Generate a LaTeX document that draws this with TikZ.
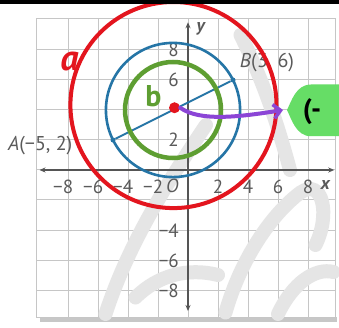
\documentclass[tikz,border=0pt]{standalone}
\usepackage{fontspec}
\setmainfont{PT Sans}
\usetikzlibrary{arrows.meta}
\definecolor{gridgray}{HTML}{C6C6C6}
\definecolor{axisgray}{HTML}{555555}
\definecolor{labgray}{HTML}{5A5A5A}
\definecolor{myblue}{HTML}{2575A6}
\definecolor{myred}{HTML}{E3151E}
\definecolor{mygreen}{HTML}{5E9E32}
\definecolor{mypurple}{HTML}{8B45D6}
\definecolor{blobgreen}{HTML}{66DD66}
\tikzset{
  ticklab/.style={font=\fontsize{19}{19}\selectfont, text=labgray, inner sep=0pt},
  ptlab/.style={font=\fontsize{20}{20}\selectfont, text=labgray, inner sep=0pt},
  axisline/.style={draw=axisgray, line width=1.6pt},
  bluedot/.style={circle, fill=myblue, inner sep=0pt, minimum size=5pt},
  wm/.style={draw=black!10, line width=14pt, line cap=round}
}
\begin{document}
\begin{tikzpicture}[x=1pt,y=-1pt]
\useasboundingbox (0,0) rectangle (339,328);
\fill[white] (0,0) rectangle (339,328);
% shadow under grid
\fill[black!22] (40,317) rectangle (337,322);
\begin{scope}[shift={(188,170)},x=15pt,y=15pt]
  % grid
  \fill[white] (-10.07,-9.8) rectangle (9.8,10.13);
  \draw[gridgray, line width=1pt] (-10.07,-9.8) rectangle (9.8,10.13);
  \foreach \k in {-8,-6,...,8} {
    \draw[gridgray, line width=1pt] (\k,-9.8) -- (\k,10.13);
    \draw[gridgray, line width=1pt] (-10.07,\k) -- (9.8,\k);
  }
  % watermark strokes
  \draw[wm] (-5.5,-9.6) .. controls (-4,-5) and (-1.5,-1) .. (1.2,3);
  \draw[wm] (3.5,9) .. controls (5,6) and (6,3) .. (6.8,0);
  \draw[wm] (2.5,-9.5) .. controls (3.5,-6) and (5.5,-3) .. (7.5,-1.5) .. controls (9,-0.5) and (9.5,-3) .. (8.5,-5);
  \draw[wm] (6,-9.6) .. controls (7,-7.5) and (8.5,-6.5) .. (9.7,-6.8);
  \draw[wm] (-3.5,-8.5) .. controls (-2,-7) and (0,-6.5) .. (2,-7);
  % axes
  \coordinate (xl) at (-9.9,0);
  \coordinate (xr) at (9.75,0);
  \coordinate (yb) at (0,-9.4);
  \coordinate (yt) at (0,9.85);
  \draw[axisline, {Stealth[length=6pt,width=5pt]}-{Stealth[length=6pt,width=5pt]}] (xl) -- (xr);
  \draw[axisline, {Stealth[length=6pt,width=5pt]}-{Stealth[length=6pt,width=5pt]}] (yb) -- (yt);
  \node[ticklab, font=\fontsize{18}{18}\selectfont\itshape\bfseries] (ylab) at (0.85,9.4) {y};
  \node[ticklab, font=\fontsize{18}{18}\selectfont\itshape\bfseries] (xlab) at (9.15,-1.0) {x};
  % tick labels x
  \foreach \v/\n in {-8/xm8,-6/xm6,-4/xm4,-2/xm2} {
    \node[ticklab] (\n) at (\v,-1.1) {\llap{−}\the\numexpr-\v\relax};
  }
  \foreach \v/\n in {2/xp2,4/xp4,6/xp6,8/xp8} {
    \node[ticklab] (\n) at (\v,-1.1) {\v};
  }
  \node[ticklab, font=\fontsize{19}{19}\selectfont\itshape] (orig) at (-1.05,-1.05) {O};
  % tick labels y
  \foreach \v/\n in {8/yp8,6/yp6,2/yp2} {
    \node[ticklab, anchor=east] (\n) at (-0.6,\v) {\v};
  }
  \foreach \v/\n in {-4/ym4,-6/ym6,-8/ym8} {
    \node[ticklab, anchor=east] (\n) at (-0.6,\v-0.05) {−\the\numexpr-\v\relax};
  }
  % blue circle and diameter
  \draw[myblue, line width=2.6pt] (-1,4) circle (4.472);
  \node[bluedot] (A) at (-5,2) {};
  \node[bluedot] (B) at (3,6) {};
  \draw[myblue, line width=2pt] (A) -- (B);
  \node[ptlab, anchor=west] (Alab) at (-12.0,1.65) {\textit{A}(−5, 2)};
  \node[ptlab, anchor=west] (Blab) at (3.45,7.15) {\textit{B}(3, 6)};
  % green circle
  \draw[mygreen, line width=4.5pt] (-1,4) circle (3.2);
  % red circle
  \draw[myred, line width=4pt] (-0.97,4.33) circle (6.87);
  % centre dot
  \node[circle, fill=myred, inner sep=0pt, minimum size=11pt] (C) at (-0.9,4.15) {};
  % green blob
  \coordinate (tip) at (6.6,4);
  \fill[blobgreen] (10.5,5.7) -- (8.2,5.7) .. controls (7.2,5.7) and (6.9,4.6) .. (tip)
     .. controls (6.9,3.4) and (7.2,2.25) .. (8.2,2.25) -- (10.5,2.25) -- cycle;
  \node[font=\fontsize{28}{28}\selectfont\bfseries, text=black, anchor=west, inner sep=0pt] (Ctext) at (7.65,3.9) {(-};
  % purple arrow
  \draw[mypurple, line width=4pt, line cap=round, -{Straight Barb[length=7pt,width=14pt,line width=3.5pt]}]
     (C.east) .. controls (0.8,3.2) and (3.5,3.55) .. ([xshift=-4pt]tip);
  % handwritten labels
  \node[font=\fontsize{36}{36}\selectfont\bfseries\itshape, text=myred, inner sep=0pt] (alab) at (-7.9,7.25) {a};
  \node[font=\fontsize{30}{30}\selectfont\bfseries, text=mygreen, inner sep=0pt] (blab) at (-2.3,4.95) {b};
\end{scope}
\fill[black] (0,0) rectangle (339,4);
\end{tikzpicture}
\end{document}
